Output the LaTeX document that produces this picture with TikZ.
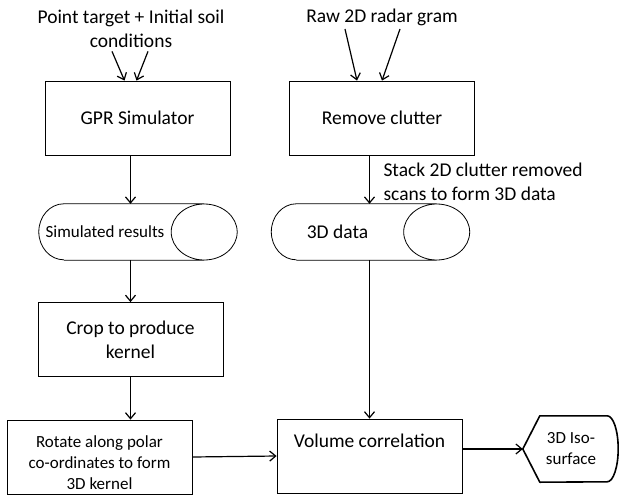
\documentclass[tikz,border=0pt]{standalone}
\usepackage{fontspec}
\setmainfont{Carlito}
\usetikzlibrary{arrows.meta}

\begin{document}
\begin{tikzpicture}[x=1pt,y=-1pt,
                every node/.style={font=\fontsize{19.5}{24}\selectfont,align=center},
                box/.style={draw,line width=0.8pt,minimum width=185pt,minimum height=74pt,inner sep=2pt},
                small/.style={font=\fontsize{17}{21}\selectfont},
                store/.style={inner sep=0pt,minimum width=132pt,minimum height=56pt},
                flow/.style={line width=1.2pt,-{Straight Barb[length=6pt,width=10pt]}}
            ]
                \useasboundingbox (0,0) rectangle (619,496);

                \node (pt) at (131,29) {Point target + Initial soil\\conditions};
                \node (raw) at (382,17) {Raw 2D radar gram};

                \node[box] (gpr) at (137.5,118) {GPR Simulator};
                \node[box] (clutter) at (382,118) {Remove clutter};

                \node[store,small] (sim) at (105,232) {Simulated results};
                \node[store] (dat) at (337.5,232) {3D data};
                \foreach \n in {sim,dat}
                    \draw[line width=0.8pt] ([xshift=25]\n.north west) -- ([xshift=33]\n.north east)
                        ([xshift=25]\n.south west) -- ([xshift=33]\n.south east)
                        ([xshift=25]\n.north west) arc[start angle=90,end angle=270,x radius=25pt,y radius=28pt]
                        ([xshift=33]\n.east) ellipse[x radius=33pt,y radius=28pt];

                \node[anchor=west,align=left] (stk) at (380,182) {Stack 2D clutter removed\\scans to form 3D data};

                \node[box] (crop) at (130.5,339.5) {Crop to produce\\kernel};
                \node[box,small] (rot) at (99.5,457) {\strut\\[-12pt]Rotate along polar\\co-ordinates to form\\3D kernel};
                \node[box] (vol) at (369.5,456) {Volume correlation\\\strut};

                \node[small,inner sep=0pt,minimum width=96pt,minimum height=66pt] (iso) at (571,449) {3D Iso-\\surface};
                \draw[line width=1.6pt,line join=round] (iso.west) -- ([xshift=17]iso.north west)
                    -- ([xshift=-12]iso.north east) arc[start angle=90,end angle=-90,x radius=11pt,y radius=33pt]
                    -- ([xshift=17]iso.south west) -- cycle;

                \draw[flow] ([xshift=-19]pt.south) -- ([xshift=-13]gpr.north);
                \draw[flow] ([xshift=17]pt.south) -- ([xshift=-1]gpr.north);
                \draw[flow] ([xshift=-37]raw.south) -- ([xshift=-25]clutter.north);
                \draw[flow] ([xshift=18]raw.south) -- (clutter.north);

                \draw[flow] (gpr.south -| crop) -- (sim.north -| crop);
                \draw[flow] (sim.south -| crop) -- (crop.north);
                \draw[flow] (crop.south) -- (crop.south |- rot.north);
                \draw[flow] (clutter.south -| vol) -- (dat.north -| vol);
                \draw[flow] (dat.south -| vol) -- (vol.north);
                \draw[flow] (rot.east) -- (vol.west);
                \draw[flow] (vol.east |- iso.west) -- (iso.west);
            \end{tikzpicture}
\end{document}
